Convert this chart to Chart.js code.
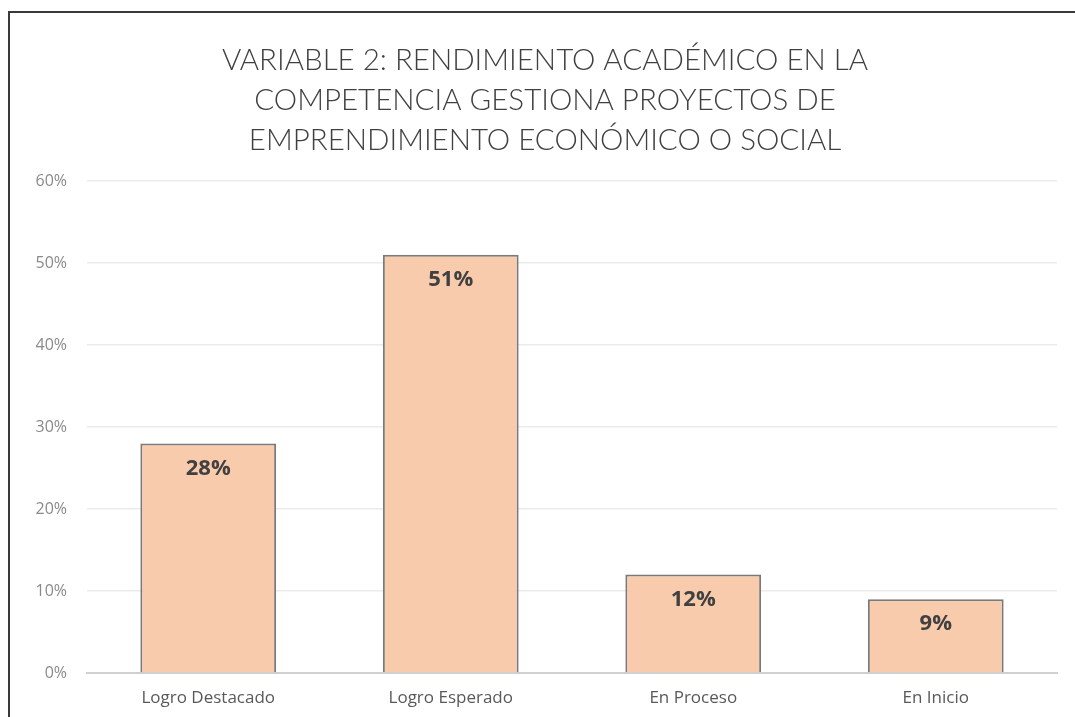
<!DOCTYPE html>
<html>
<head>
<meta charset="utf-8">
<script src="https://cdn.jsdelivr.net/npm/chart.js@4.4.1/dist/chart.umd.min.js"></script>
<style>
  html, body { margin: 0; padding: 0; background: #fff; overflow: hidden; }
  #wrap { position: absolute; left: 0; top: 0; width: 1075px; height: 717px; }
  #frame { position: absolute; left: 8px; top: 11px; width: 1080px; height: 720px;
           border-left: 2px solid #3a3a3a; border-top: 2px solid #3a3a3a; pointer-events: none; }
</style>
</head>
<body>
<div id="wrap"><canvas id="c" width="1075" height="717"></canvas></div>
<div id="frame"></div>
<script>
const titleLines = ["VARIABLE 2: RENDIMIENTO ACADÉMICO EN LA", "COMPETENCIA GESTIONA PROYECTOS DE", "EMPRENDIMIENTO ECONÓMICO O SOCIAL"];
const categories = ["Logro Destacado", "Logro Esperado", "En Proceso", "En Inicio"];
const values = [28, 51, 12, 9];
const yTicks = [0, 10, 20, 30, 40, 50, 60];

const valueLabels = {
  id: 'valueLabels',
  afterDatasetsDraw(chart) {
    const ctx = chart.ctx;
    const meta = chart.getDatasetMeta(0);
    ctx.save();
    ctx.font = 'bold 22px "Open Sans"';
    ctx.fillStyle = '#404040';
    ctx.textAlign = 'center';
    ctx.textBaseline = 'middle';
    meta.data.forEach((bar, i) => {
      ctx.fillText(chart.data.datasets[0].data[i] + '%', bar.x, bar.y + 25);
    });
    ctx.restore();
  }
};

new Chart(document.getElementById('c'), {
  type: 'bar',
  data: {
    labels: categories,
    datasets: [{
      data: values,
      backgroundColor: '#F8CBAD',
      borderColor: '#7a7a7a',
      borderWidth: 2,
      borderSkipped: 'bottom',
      barPercentage: 0.56,
      categoryPercentage: 1.0
    }]
  },
  options: {
    responsive: false,
    animation: false,
    layout: { padding: { left: 33, right: 18, top: 0, bottom: 0 } },
    plugins: {
      legend: { display: false },
      tooltip: { enabled: false },
      title: {
        display: true,
        text: titleLines,
        color: '#404040',
        font: { family: 'Lato', size: 29.5, weight: 300, lineHeight: 40 / 29.5 },
        padding: { top: 40, bottom: 21 }
      }
    },
    scales: {
      x: {
        grid: { display: false, drawTicks: false },
        border: { display: true, color: '#d0d0d0', width: 2 },
        ticks: { color: '#595959', font: { family: 'Open Sans', size: 17 }, padding: 15, maxRotation: 0 },
        afterFit(scale) { scale.height = 44; }
      },
      y: {
        min: 0, max: 60,
        afterBuildTicks(scale) { scale.ticks = yTicks.map(v => ({ value: v })); },
        grid: { color: '#ebebeb', lineWidth: 1.5, drawTicks: false },
        border: { display: false },
        ticks: { color: '#8a8a8a', font: { family: 'Open Sans', size: 16 }, padding: 20, callback: v => v + '%' },
        afterFit(scale) { scale.width = 54; }
      }
    }
  },
  plugins: [valueLabels]
});
</script>
</body>
</html>
